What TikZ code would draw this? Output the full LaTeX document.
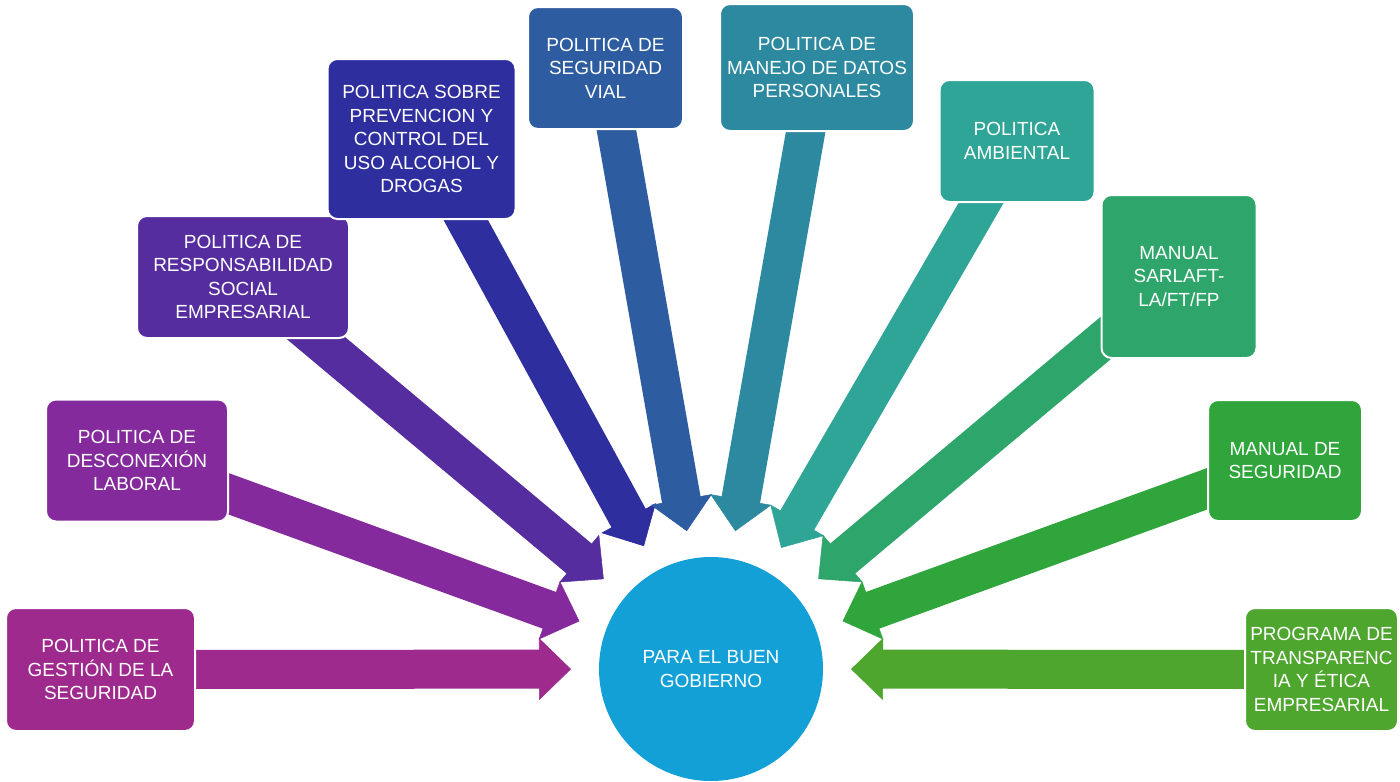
\documentclass[tikz,border=0pt]{standalone}
\usepackage{fontspec}
\setmainfont{Liberation Sans}
\usetikzlibrary{arrows.meta,backgrounds}

\definecolor{cGestion}{HTML}{9E2A8E}
\definecolor{cDescon}{HTML}{842A9C}
\definecolor{cRespon}{HTML}{552D9F}
\definecolor{cAlcohol}{HTML}{2E2E9E}
\definecolor{cVial}{HTML}{2D5CA0}
\definecolor{cDatos}{HTML}{2D89A0}
\definecolor{cAmbiental}{HTML}{2EA596}
\definecolor{cSarlaft}{HTML}{2EA56A}
\definecolor{cManual}{HTML}{2FA53C}
\definecolor{cEtica}{HTML}{4FA62F}
\definecolor{cHub}{HTML}{12A0D7}

\tikzset{every picture/.style={line width=0.75pt}}
\tikzset{
  polbox/.style={rounded corners=7.5pt, draw=white, line width=1.5pt, text=white, align=center, inner sep=0.75pt, font=\fontsize{14.25pt}{17.6pt}\selectfont},
  shaft/.style={draw=#1, line width=29.25pt, shorten >=43pt},
  head/.style={draw=#1, line width=0.4pt, shorten >=21pt, -{Triangle[width=46.5pt,length=24pt]}},
}

\begin{document}
\begin{tikzpicture}[x=0.75pt,y=0.75pt,yscale=-1.0,xscale=1.0]
    \useasboundingbox (0,0) rectangle (1400,782);

    % Hub
    \node[circle, fill=cHub, minimum size=168pt, inner sep=0pt, outer sep=0pt, text=white, align=center, font=\fontsize{14.25pt}{17.6pt}\selectfont] (hub) at (711,669) {PARA EL BUEN\\GOBIERNO};

    % Text Node
    \node[polbox, fill=cGestion, minimum width=141.75pt, minimum height=92.25pt] (gestion) at (100.5,669.5) {POLITICA DE\\GESTIÓN DE LA\\SEGURIDAD};
    % Text Node
    \node[polbox, fill=cDescon, minimum width=136.5pt, minimum height=91.5pt] (descon) at (137,460.5) {POLITICA DE\\DESCONEXIÓN\\LABORAL};
    % Text Node
    \node[polbox, fill=cRespon, minimum width=159pt, minimum height=91.5pt] (respon) at (243,277) {POLITICA DE\\RESPONSABILIDAD\\SOCIAL\\EMPRESARIAL};
    % Text Node
    \node[polbox, fill=cAlcohol, minimum width=141pt, minimum height=120pt] (alcohol) at (421.5,139) {POLITICA SOBRE\\PREVENCION Y\\CONTROL DEL\\USO ALCOHOL Y\\DROGAS};
    % Text Node
    \node[polbox, fill=cVial, minimum width=116.25pt, minimum height=91.5pt] (vial) at (605.5,68) {POLITICA DE\\SEGURIDAD\\VIAL};
    % Text Node
    \node[polbox, fill=cDatos, minimum width=145.5pt, minimum height=95.25pt] (datos) at (817,67.5) {POLITICA DE\\MANEJO DE DATOS\\PERSONALES};
    % Text Node
    \node[polbox, fill=cAmbiental, minimum width=116.25pt, minimum height=91.5pt] (ambiental) at (1017,141) {POLITICA\\AMBIENTAL};
    % Text Node
    \node[polbox, fill=cSarlaft, minimum width=116.25pt, minimum height=122.25pt] (sarlaft) at (1179,276.5) {MANUAL\\SARLAFT-\\LA/FT/FP};
    % Text Node
    \node[polbox, fill=cManual, minimum width=115.5pt, minimum height=90.75pt] (manual) at (1285,460.5) {MANUAL DE\\SEGURIDAD};
    % Text Node
    \node[polbox, fill=cEtica, minimum width=114.75pt, minimum height=92.25pt] (etica) at (1321.5,669.5) {PROGRAMA DE\\TRANSPARENC\\IA Y ÉTICA\\EMPRESARIAL};

    \begin{pgfonlayer}{background}
    \fill[white] (0,0) rectangle (1400,782);
    % Connection
    \draw[shaft=cGestion] (gestion.center) -- (hub);
    \draw[head=cGestion] (gestion.center) -- (hub);
    % Connection
    \draw[shaft=cDescon] (descon.center) -- (hub);
    \draw[head=cDescon] (descon.center) -- (hub);
    % Connection
    \draw[shaft=cRespon] (respon.center) -- (hub);
    \draw[head=cRespon] (respon.center) -- (hub);
    % Connection
    \draw[shaft=cAlcohol] (alcohol.center) -- (hub);
    \draw[head=cAlcohol] (alcohol.center) -- (hub);
    % Connection
    \draw[shaft=cVial] (vial.center) -- (hub);
    \draw[head=cVial] (vial.center) -- (hub);
    % Connection
    \draw[shaft=cDatos] (datos.center) -- (hub);
    \draw[head=cDatos] (datos.center) -- (hub);
    % Connection
    \draw[shaft=cAmbiental] (ambiental.center) -- (hub);
    \draw[head=cAmbiental] (ambiental.center) -- (hub);
    % Connection
    \draw[shaft=cSarlaft] (sarlaft.center) -- (hub);
    \draw[head=cSarlaft] (sarlaft.center) -- (hub);
    % Connection
    \draw[shaft=cManual] (manual.center) -- (hub);
    \draw[head=cManual] (manual.center) -- (hub);
    % Connection
    \draw[shaft=cEtica] (etica.center) -- (hub);
    \draw[head=cEtica] (etica.center) -- (hub);
    \end{pgfonlayer}
\end{tikzpicture}
\end{document}
